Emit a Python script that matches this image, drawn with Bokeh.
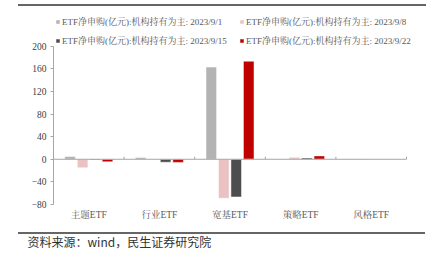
from bokeh.plotting import figure
from bokeh.models import (Range1d, Legend, LegendItem, Label, Div,
                          ColumnDataSource, FixedTicker)
from bokeh.layouts import column
from bokeh.embed import file_html
from bokeh.resources import INLINE

categories = ["主题ETF", "行业ETF", "宽基ETF", "策略ETF", "风格ETF"]
series_names = [
    "ETF净申购(亿元):机构持有为主: 2023/9/1",
    "ETF净申购(亿元):机构持有为主: 2023/9/8",
    "ETF净申购(亿元):机构持有为主: 2023/9/15",
    "ETF净申购(亿元):机构持有为主: 2023/9/22",
]
v_0901 = [5, 3, 163, -0.6, 0.3]
v_0908 = [-15, -0.6, -69, 3.5, -0.8]
v_0915 = [-1.5, -5.3, -66.7, 2.4, 0.2]
v_0922 = [-4.5, -5.5, 173.5, 6, 0.2]
series_values = [v_0901, v_0908, v_0915, v_0922]
colors = ["#b3b3b3", "#ebc2c2", "#4d4d4d", "#c00000"]
y_ticks = [-80, -40, 0, 40, 80, 120, 160, 200]
y_min, y_max = -80, 200
source_text = "资料来源：wind，民生证券研究院"

SERIF = "Liberation Serif, Noto Serif CJK SC, Noto Sans CJK SC"
RULE = "#666666"
AXIS = "#a6a6a6"


def rule_div(w, margin):
    return Div(text='<div style="width:%dpx;height:2px;background:%s"></div>' % (w, RULE),
               width=w, height=2, margin=margin,
               styles={"background-color": RULE, "overflow": "hidden"})


# --- top rule
top_rule = rule_div(408, (4, 0, 2, 18))

# --- main chart (frame extended above the 200 line and to the right to hold the legend)
n = len(categories)
centers = [i + 0.5 for i in range(n)]
p = figure(width=426, height=223, x_range=Range1d(0, n * 1.0396),
           y_range=Range1d(y_min, 259.6), output_backend="svg", toolbar_location=None,
           min_border_left=53, min_border_right=6, min_border_top=4, min_border_bottom=27,
           margin=0, frame_align=False)
p.outline_line_color = None
p.grid.grid_line_color = None

offsets = [-0.265, -0.088, 0.088, 0.265]
items = []
for i in range(4):
    src = ColumnDataSource({"x": [c + offsets[i] for c in centers], "top": series_values[i]})
    r = p.vbar(x="x", top="top", bottom=0, width=0.15, source=src,
               fill_color=colors[i], line_color="white", line_width=0.5)
    items.append(LegendItem(label=series_names[i], renderers=[r]))

# zero axis line and category boundary ticks
p.segment(x0=[0], x1=[n], y0=[0], y1=[0], line_color=AXIS, line_width=1)
bx = list(range(1, n + 1))
p.segment(x0=bx, x1=bx, y0=[0] * n, y1=[4.5] * n, line_color=AXIS, line_width=1)

# axes
p.yaxis.ticker = FixedTicker(ticks=y_ticks)
p.yaxis.bounds = (y_min, y_max)
p.yaxis.axis_line_color = AXIS
p.yaxis.major_tick_line_color = AXIS
p.yaxis.major_tick_out = 3
p.yaxis.major_tick_in = 0
p.yaxis.minor_tick_line_color = None
p.yaxis.major_label_text_font = SERIF
p.yaxis.major_label_text_font_size = "9.5px"
p.yaxis.major_label_text_color = "#404040"
p.yaxis.major_label_standoff = 4

p.xaxis.ticker = FixedTicker(ticks=centers)
p.xaxis.major_label_overrides = {c: cat for c, cat in zip(centers, categories)}
p.xaxis.axis_line_color = None
p.xaxis.major_tick_line_color = None
p.xaxis.major_tick_out = 0
p.xaxis.major_tick_in = 0
p.xaxis.minor_tick_line_color = None
p.xaxis.major_label_text_font = SERIF
p.xaxis.major_label_text_font_size = "9.5px"
p.xaxis.major_label_text_color = "#595959"
p.xaxis.major_label_standoff = 5

legend = Legend(items=items, orientation="horizontal", ncols=2,
                glyph_width=5, glyph_height=5, label_standoff=2, spacing=4,
                label_height=15, label_width=173, padding=0, margin=0,
                label_text_font=SERIF, label_text_font_size="9px", label_text_color="#595959",
                background_fill_alpha=0, border_line_color=None, location=(2, 156.5))
p.add_layout(legend, "center")

# --- footer: rule and source
bottom_rule = rule_div(407, (1, 1, 0, 18))
foot = figure(width=426, height=27, x_range=Range1d(0, 1), y_range=Range1d(0, 1),
              x_axis_type=None, y_axis_type=None, output_backend="svg",
              toolbar_location=None, min_border=0, margin=0, frame_align=False)
foot.outline_line_color = None
foot.grid.grid_line_color = None
foot.add_layout(Label(x=27, y=20, x_units="screen", y_units="screen", text=source_text,
                      text_font="Noto Sans CJK SC", text_font_size="12px",
                      text_color="#333333", text_baseline="middle"))

layout = column(top_rule, p, bottom_rule, foot, spacing=0)
open("out.html", "w").write(file_html(layout, INLINE))
